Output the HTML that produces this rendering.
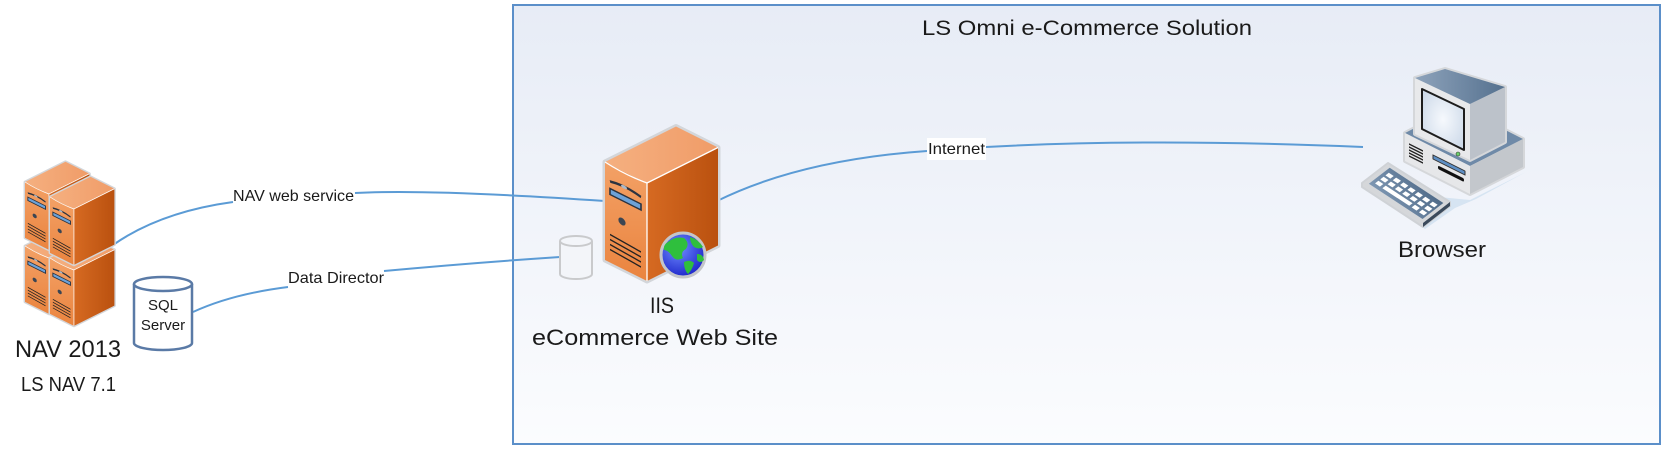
<!DOCTYPE html>
<html>
<head>
<meta charset="utf-8">
<style>
  html,body{margin:0;padding:0;background:#fff;}
  svg{display:block;}
  text{font-family:"Liberation Sans",Arial,sans-serif;fill:#1a1a1a;}
</style>
</head>
<body>
<svg width="1666" height="450" viewBox="0 0 1666 450" xmlns="http://www.w3.org/2000/svg">
  <defs>
    <linearGradient id="gBox" x1="0" y1="0" x2="0" y2="1">
      <stop offset="0" stop-color="#e7ecf6"/>
      <stop offset="1" stop-color="#fbfcfe"/>
    </linearGradient>
    <linearGradient id="gFront" x1="0" y1="0" x2="0" y2="1">
      <stop offset="0" stop-color="#f3a166"/>
      <stop offset="1" stop-color="#ea843f"/>
    </linearGradient>
    <linearGradient id="gSide" x1="0" y1="0" x2="1" y2="0">
      <stop offset="0" stop-color="#d66a22"/>
      <stop offset="1" stop-color="#ba510f"/>
    </linearGradient>
    <linearGradient id="gTop" x1="0" y1="0" x2="1" y2="0">
      <stop offset="0" stop-color="#f5b080"/>
      <stop offset="1" stop-color="#f09c68"/>
    </linearGradient>
    <radialGradient id="gGlobe" cx="0.4" cy="0.35" r="0.7">
      <stop offset="0" stop-color="#6f8cff"/>
      <stop offset="1" stop-color="#1a22c8"/>
    </radialGradient>
    <linearGradient id="gMonTop" x1="0" y1="0" x2="1" y2="0">
      <stop offset="0" stop-color="#8ea3bb"/>
      <stop offset="1" stop-color="#55718f"/>
    </linearGradient>
    <linearGradient id="gKey" x1="0" y1="0" x2="1" y2="1">
      <stop offset="0" stop-color="#7f98b4"/>
      <stop offset="1" stop-color="#4e6987"/>
    </linearGradient>
    <radialGradient id="gScreen" cx="0.5" cy="0.5" r="0.6">
      <stop offset="0" stop-color="#f6f9fd"/>
      <stop offset="1" stop-color="#cfdbea"/>
    </radialGradient>

    <g id="tower">
      <polygon points="0,0 71,-35.5 113,-14.5 113,83.5 42,119 0,98" fill="#d3d6da" stroke="#d3d6da" stroke-width="5" stroke-linejoin="round"/>
      <polygon points="0,0 42,21 42,119 0,98" fill="url(#gFront)"/>
      <polygon points="42,21 113,-14.5 113,83.5 42,119" fill="url(#gSide)"/>
      <polygon points="0,0 42,21 113,-14.5 71,-35.5" fill="url(#gTop)"/>
      <path d="M0,0 Q20,13 42,21 L113,-14.5" fill="none" stroke="#ffffff" stroke-width="1.3"/>
      <line x1="42" y1="21" x2="42" y2="119" stroke="#ffffff" stroke-width="1.3"/>
      <g transform="matrix(1,0.5,0,1,0,0)">
        <path d="M5,17 Q20,13 36,17" stroke="#2b3340" stroke-width="2.6" fill="none"/>
        <ellipse cx="19" cy="15.5" rx="3" ry="1.6" fill="#a9b8c8"/>
        <rect x="5" y="24" width="31" height="6" fill="#6da2d8" stroke="#2b3340" stroke-width="1.6"/>
        <circle cx="17" cy="51" r="3.6" fill="#3b4552"/>
        <path d="M5,70 L36,72 M5,75 L36,77 M5,80 L36,82 M5,85 L36,87" stroke="#222" stroke-width="1.5"/>
      </g>
    </g>
  </defs>

  <!-- solution box -->
  <rect x="513" y="5" width="1147" height="439" fill="url(#gBox)" stroke="#5b8fc9" stroke-width="2"/>
  <text x="1087" y="35" font-size="21" text-anchor="middle" textLength="330" lengthAdjust="spacingAndGlyphs">LS Omni e-Commerce Solution</text>

  <!-- connectors -->
  <g fill="none" stroke="#5b9bd5" stroke-width="2">
    <path d="M113,245 Q160,212 233,202"/>
    <path d="M355,193 Q430,189 605,201"/>
    <path d="M193,312 Q232,294 288,287"/>
    <path d="M384,271 Q470,263 560,257"/>
    <path d="M717,201 Q800,160 927,151"/>
    <path d="M986,147 Q1150,138 1363,147"/>
  </g>

  <!-- connector labels -->
  <text x="233" y="201" font-size="16" textLength="121" lengthAdjust="spacingAndGlyphs">NAV web service</text>
  <text x="288" y="283" font-size="16" textLength="96" lengthAdjust="spacingAndGlyphs">Data Director</text>
  <rect x="927" y="138" width="59" height="22" fill="#ffffff"/>
  <text x="928" y="154" font-size="16" textLength="57" lengthAdjust="spacingAndGlyphs">Internet</text>

  <!-- NAV servers -->
  <use href="#tower" transform="translate(25,246) scale(0.57)"/>
  <use href="#tower" transform="translate(25,182) scale(0.57)"/>
  <use href="#tower" transform="translate(50,258) scale(0.57)"/>
  <use href="#tower" transform="translate(50,197) scale(0.57)"/>

  <text x="15" y="357" font-size="24" textLength="106" lengthAdjust="spacingAndGlyphs">NAV 2013</text>
  <text x="21" y="391" font-size="20" textLength="95" lengthAdjust="spacingAndGlyphs">LS NAV 7.1</text>

  <!-- SQL Server cylinder -->
  <path d="M134,284 L134,343 A29,7 0 0 0 192,343 L192,284" fill="#ffffff" stroke="#5a7aa6" stroke-width="2.5"/>
  <ellipse cx="163" cy="284" rx="29" ry="7" fill="#ffffff" stroke="#5a7aa6" stroke-width="2.5"/>
  <text x="163" y="310" font-size="15" text-anchor="middle">SQL</text>
  <text x="163" y="330" font-size="15" text-anchor="middle">Server</text>

  <!-- small db cylinder -->
  <path d="M560,241 L560,274 A16,5 0 0 0 592,274 L592,241" fill="#f3f5f9" stroke="#c9cacc" stroke-width="2"/>
  <ellipse cx="576" cy="241" rx="16" ry="5" fill="#f3f5f9" stroke="#c9cacc" stroke-width="2"/>

  <!-- IIS server -->
  <use href="#tower" transform="translate(605,162)"/>
  <!-- globe -->
  <circle cx="683" cy="255" r="22" fill="url(#gGlobe)" stroke="#c4c6c9" stroke-width="3"/>
  <path d="M668,242 Q675,236 684,238 Q690,243 686,249 Q680,252 683,258 Q676,262 672,256 Q668,250 664,250 Q663,245 668,242 Z" fill="#2fbf3d"/>
  <path d="M690,237 Q698,239 703,247 Q699,250 694,247 Q690,243 690,237 Z" fill="#2fbf3d"/>
  <path d="M684,262 Q690,259 694,263 Q692,270 688,274 Q684,270 684,262 Z" fill="#2fbf3d"/>
  <path d="M697,254 Q703,254 704,260 Q700,264 697,260 Z" fill="#2fbf3d"/>

  <text x="662" y="313" font-size="22" text-anchor="middle" textLength="24" lengthAdjust="spacingAndGlyphs">IIS</text>
  <text x="532" y="345" font-size="22" textLength="246" lengthAdjust="spacingAndGlyphs">eCommerce Web Site</text>

  <!-- Browser computer -->
  <g stroke-linejoin="round">
    <!-- shadow -->
    <polygon points="1365,190 1425,229 1455,208 1476,199 1526,172 1470,200" fill="#d6e4f2"/>
    <!-- base -->
    <polygon points="1405,133 1458,106 1523,139 1523,167 1470,194 1405,161" fill="#d5d7da" stroke="#d5d7da" stroke-width="4"/>
    <polygon points="1405,133 1458,106 1523,139 1470,166" fill="#6f8aa8"/>
    <polygon points="1405,133 1470,166 1470,194 1405,161" fill="#e6e7e9"/>
    <polygon points="1470,166 1523,139 1523,167 1470,194" fill="#c3c7cc"/>
    <g transform="translate(1405,133) matrix(1,0.5,0,1,0,0)">
      <path d="M4,9 L18,9 M4,12 L18,12 M4,15 L18,15 M4,18 L18,18 M4,21 L18,21" stroke="#222" stroke-width="1.5"/>
      <rect x="28" y="8" width="32" height="4" fill="#5e8fc4" stroke="#333" stroke-width="1"/>
      <rect x="33" y="16" width="26" height="3.5" rx="1.5" fill="#111"/>
    </g>
    <!-- monitor -->
    <polygon points="1415,78 1445,69 1505,87 1505,142 1470,160 1415,134" fill="#d5d7da" stroke="#d5d7da" stroke-width="4"/>
    <polygon points="1470,104 1505,87 1505,142 1470,160" fill="#bcc2ca"/>
    <polygon points="1415,78 1470,104 1470,160 1415,134" fill="#e8e9eb"/>
    <polygon points="1415,78 1445,69 1505,87 1470,104" fill="url(#gMonTop)"/>
    <polygon points="1422,89 1464,109 1464,150 1422,129" fill="url(#gScreen)" stroke="#1d1d1d" stroke-width="2"/>
    <circle cx="1458" cy="154" r="2" fill="#6bcf6b" stroke="#333" stroke-width="0.6"/>
    <!-- keyboard -->
    <polygon points="1362,183 1388,163 1450,202 1450,206 1423,227 1362,187" fill="#d5d7da" stroke="#cfd2d6" stroke-width="2"/>
    <polygon points="1423,223 1450,202 1450,206 1423,227" fill="#3b4a5c"/>
    <g transform="matrix(61,40,26,-20,1362,183)">
      <polygon points="0.07,0.1 0.95,0.1 0.95,0.9 0.07,0.9" fill="url(#gKey)"/>
      <g fill="#ffffff">
        <rect x="0.12" y="0.62" width="0.08" height="0.13"/>
        <rect x="0.24" y="0.62" width="0.08" height="0.13"/>
        <rect x="0.36" y="0.62" width="0.08" height="0.13"/>
        <rect x="0.48" y="0.62" width="0.08" height="0.13"/>
        <rect x="0.60" y="0.62" width="0.08" height="0.13"/>
        <rect x="0.72" y="0.62" width="0.08" height="0.13"/>
        <rect x="0.84" y="0.62" width="0.08" height="0.13"/>
        <rect x="0.12" y="0.42" width="0.08" height="0.13"/>
        <rect x="0.24" y="0.42" width="0.08" height="0.13"/>
        <rect x="0.36" y="0.42" width="0.08" height="0.13"/>
        <rect x="0.48" y="0.42" width="0.08" height="0.13"/>
        <rect x="0.60" y="0.42" width="0.08" height="0.13"/>
        <rect x="0.72" y="0.42" width="0.08" height="0.13"/>
        <rect x="0.84" y="0.42" width="0.08" height="0.13"/>
        <rect x="0.12" y="0.22" width="0.08" height="0.13"/>
        <rect x="0.24" y="0.22" width="0.44" height="0.13"/>
        <rect x="0.72" y="0.22" width="0.08" height="0.13"/>
        <rect x="0.84" y="0.22" width="0.08" height="0.13"/>
      </g>
    </g>
  </g>
  <text x="1398" y="257" font-size="22" textLength="88" lengthAdjust="spacingAndGlyphs">Browser</text>
</svg>
</body>
</html>
